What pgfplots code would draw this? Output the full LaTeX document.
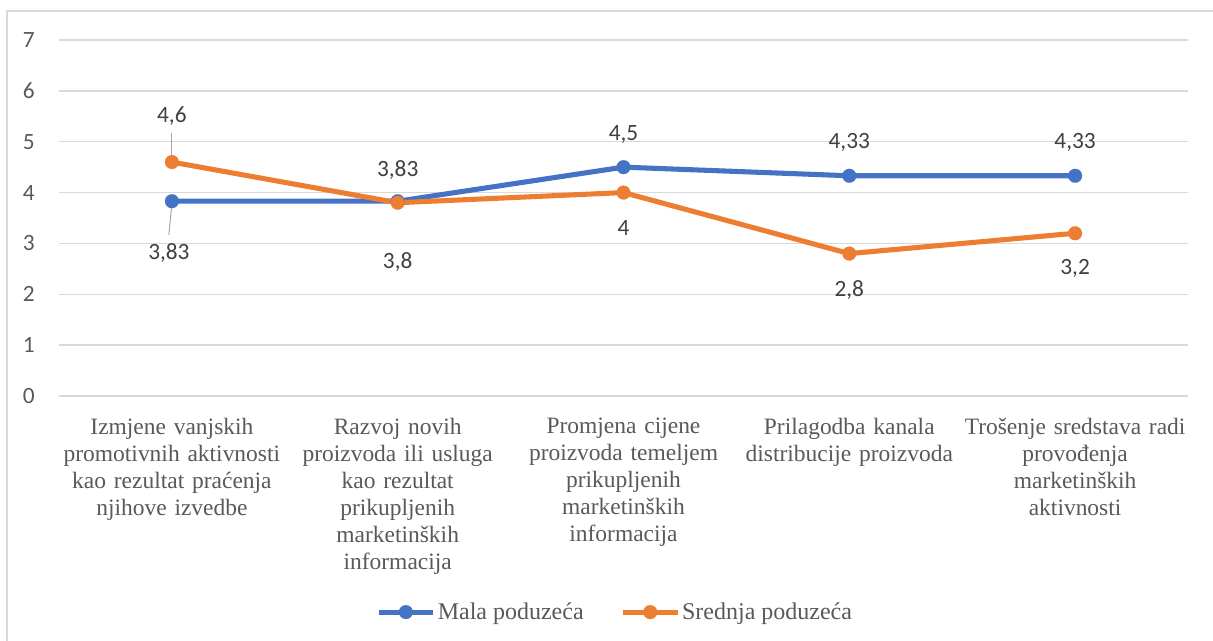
\documentclass[border=0pt]{standalone}
\usepackage{pgfplots}
\pgfplotsset{compat=1.18}
\usepackage{fontspec}
\setmainfont{Liberation Serif}
\newfontfamily\calibri{Carlito}
\definecolor{cblue}{HTML}{4472C4}
\definecolor{corange}{HTML}{ED7D31}
\definecolor{gridc}{HTML}{D9D9D9}
\definecolor{txt}{HTML}{595959}
\definecolor{labc}{HTML}{404040}
\definecolor{lead}{HTML}{A6A6A6}
\begin{document}
\begin{tikzpicture}[x=0.75pt,y=0.75pt]
\useasboundingbox (0,0) rectangle (1213,641);
\draw[gridc, line width=1.5pt] (7,0) -- (7,630) -- (1213,630);
\begin{axis}[
  at={(44.25pt,183.75pt)}, anchor=south west,
  width=846.75pt, height=267pt, scale only axis,
  xmin=-0.5, xmax=4.5, ymin=0, ymax=7,
  xtick={0,...,4}, ytick={0,...,7},
  xticklabels={
    {Izmjene vanjskih\\promotivnih aktivnosti\\kao rezultat praćenja\\njihove izvedbe},
    {Razvoj novih\\proizvoda ili usluga\\kao rezultat\\prikupljenih\\marketinških\\informacija},
    {Promjena cijene\\proizvoda temeljem\\prikupljenih\\marketinških\\informacija},
    {Prilagodba kanala\\distribucije proizvoda},
    {Trošenje sredstava radi\\provođenja\\marketinških\\aktivnosti}},
  xticklabel style={anchor=north, inner sep=0pt, yshift=-16.25pt, text width=200pt, align=center,
    font=\fontsize{17.6}{20.3}\selectfont, text=txt},
  yticklabel style={anchor=east, inner sep=0pt, xshift=-18pt,
    font=\calibri\fontsize{17.5}{19}\selectfont, text=txt},
  /pgf/number format/assume math mode=true,
  ymajorgrids, major grid style={gridc, line width=1.1pt},
  axis line style={draw=none}, major tick length=0pt,
  clip=false,
  legend style={at={(0.4925,-0.607)}, anchor=center, draw=none, fill=none,
    font=\fontsize{18}{19}\selectfont, text=txt, legend columns=2,
    nodes={inner sep=1.5pt},
    /tikz/every even column/.append style={column sep=26pt}},
  legend image code/.code={\draw[mark repeat=2,mark phase=2] plot coordinates {(0pt,0pt) (20.5pt,0pt) (41pt,0pt)};},
  every node near coord/.append style={anchor=center, font=\calibri\fontsize{17.5}{19}\selectfont, text=labc},
]
\addplot[cblue, line width=3.8pt, mark=*, mark size=5.2pt,
  mark options={solid, fill=cblue, draw=cblue, line width=0.1pt},
  nodes near coords, point meta=explicit symbolic,
  visualization depends on={value \thisrow{dy}\as\dy},
  visualization depends on={value \thisrow{dx}\as\dx},
  every node near coord/.append style={yshift=\dy*0.75pt, xshift=\dx*0.75pt}]
  table[x=x,y=y,meta=lab]{
x y lab dy dx
0 3.83 3,83 -52 -3
1 3.83 3,83 31 0
2 4.5 4,5 33 0
3 4.33 4,33 33 0
4 4.33 4,33 33 0
};
\addlegendentry{Mala poduzeća}
\addplot[corange, line width=3.8pt, mark=*, mark size=5.2pt,
  mark options={solid, fill=corange, draw=corange, line width=0.1pt},
  nodes near coords, point meta=explicit symbolic,
  visualization depends on={value \thisrow{dy}\as\dy},
  every node near coord/.append style={yshift=\dy*0.75pt}]
  table[x=x,y=y,meta=lab]{
x y lab dy
0 4.6 4,6 46
1 3.8 3,8 -59
2 4 4 -35
3 2.8 2,8 -36
4 3.2 3,2 -35
};
\addlegendentry{Srednja poduzeća}
\draw[lead, line width=0.75pt] (axis cs:0,4.62) -- (axis cs:0,5.17);
\draw[lead, line width=0.75pt] (axis cs:0,3.79) -- (axis cs:-0.0133,3.166);
\end{axis}
\end{tikzpicture}
\end{document}
